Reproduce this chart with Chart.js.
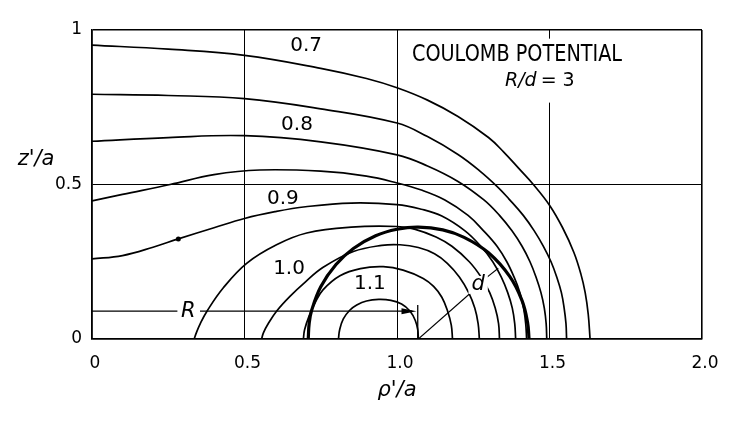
<!DOCTYPE html>
<html>
<head>
<meta charset="utf-8">
<script src="https://cdn.jsdelivr.net/npm/chart.js@4.4.0/dist/chart.umd.min.js"></script>
<style>
  html, body { margin: 0; padding: 0; background: #fff; }
  #wrap { width: 748px; height: 421px; }
</style>
</head>
<body>
<div id="wrap"><canvas id="mycanvas" width="748" height="421"></canvas></div>
<script>
// axis ticks
var xTicks = [0, 0.5, 1.0, 1.5, 2.0];
var xTickLabels = ['0', '0.5', '1.0', '1.5', '2.0'];
var yTicks = [0, 0.5, 1];
var yTickLabels = ['0', '0.5', '1'];
var contourLabels = ['0.7', '0.8', '0.9', '1.0', '1.1'];

// equipotential lines, points as [rho'/a, z'/a]
var curve070 = [[0,0.951],[0.25,0.938],[0.5,0.918],[0.75,0.876],[0.9,0.843],[1.0,0.813],[1.1,0.773],[1.2,0.72],[1.3,0.652],[1.35,0.605],[1.403,0.548],[1.447,0.5],[1.5,0.433],[1.543,0.36],[1.58,0.28],[1.603,0.21],[1.617,0.15],[1.627,0.08],[1.633,0]];
var curve075 = [[0,0.792],[0.25,0.788],[0.5,0.778],[0.75,0.745],[1.0,0.699],[1.1,0.655],[1.2,0.597],[1.27,0.545],[1.332,0.49],[1.368,0.452],[1.414,0.4],[1.45,0.35],[1.48,0.3],[1.505,0.25],[1.524,0.2],[1.539,0.15],[1.548,0.1],[1.554,0.05],[1.556,0]];
var curve080 = [[0,0.640],[0.25,0.652],[0.5,0.658],[0.75,0.638],[1.0,0.596],[1.1,0.56],[1.2,0.51],[1.285,0.45],[1.336,0.4],[1.377,0.35],[1.41,0.3],[1.436,0.25],[1.456,0.2],[1.472,0.15],[1.483,0.1],[1.489,0.05],[1.491,0]];
var curve085 = [[0,0.447],[0.1,0.468],[0.256,0.5],[0.4,0.532],[0.55,0.547],[0.75,0.543],[0.9,0.527],[1.0,0.505],[1.08,0.482],[1.157,0.45],[1.233,0.4],[1.284,0.35],[1.328,0.3],[1.36,0.25],[1.384,0.2],[1.403,0.15],[1.415,0.1],[1.422,0.05],[1.425,0]];
var curve090 = [[0,0.259],[0.1,0.27],[0.2,0.297],[0.283,0.324],[0.4,0.36],[0.5,0.39],[0.6,0.412],[0.7,0.428],[0.85,0.44],[1.0,0.435],[1.08,0.42],[1.147,0.398],[1.223,0.35],[1.275,0.3],[1.314,0.25],[1.342,0.2],[1.363,0.15],[1.378,0.1],[1.386,0.05],[1.389,0]];
var curve095 = [[0.335,0],[0.342,0.02],[0.355,0.05],[0.377,0.09],[0.43,0.165],[0.507,0.245],[0.605,0.305],[0.704,0.343],[0.85,0.362],[1.0,0.364],[1.06,0.355],[1.128,0.33],[1.18,0.3],[1.237,0.25],[1.276,0.2],[1.304,0.15],[1.322,0.1],[1.333,0.05],[1.336,0]];
var curve100 = [[0.556,0],[0.562,0.02],[0.578,0.05],[0.605,0.09],[0.649,0.138],[0.7,0.185],[0.758,0.232],[0.857,0.283],[0.95,0.303],[1.01,0.305],[1.07,0.296],[1.123,0.276],[1.165,0.245],[1.205,0.2],[1.235,0.15],[1.255,0.1],[1.266,0.05],[1.27,0]];
var curve105 = [[0.693,0],[0.697,0.03],[0.712,0.075],[0.733,0.12],[0.758,0.16],[0.813,0.205],[0.88,0.228],[0.955,0.234],[1.02,0.223],[1.086,0.196],[1.12,0.17],[1.147,0.135],[1.166,0.09],[1.178,0.045],[1.182,0]];
var curve110 = [[0.808,0],[0.812,0.03],[0.824,0.065],[0.845,0.093],[0.868,0.11],[0.9,0.123],[0.94,0.128],[0.98,0.125],[1.015,0.113],[1.043,0.09],[1.06,0.06],[1.068,0.03],[1.07,0]];

// cross-section of the ring (bold circle), radius d about rho' = R
var ringSection = [[0.709,0],[0.712,0.05],[0.72,0.092],[0.75,0.169],[0.8,0.241],[0.857,0.293],[0.93,0.334],[1.0,0.355],[1.07,0.362],[1.15,0.353],[1.22,0.329],[1.3,0.279],[1.37,0.202],[1.41,0.124],[1.428,0.054],[1.433,0]];
var markedPoint = [[0.283, 0.324]];

// dimension lines for R and d
var rLineLeft = [[0, 0.09], [0.28, 0.09]];
var rLineRight = [[0.354, 0.09], [1.05, 0.09]];
var rLineEnd = [[1.068, 0], [1.068, 0.11]];
var dLineLow = [[1.07, 0], [1.245, 0.152]];
var dLineHigh = [[1.29, 0.196], [1.332, 0.229]];

function toPts(arr) {
    return arr.map(function(p) { return {x: p[0], y: p[1]}; });
}
function lineSet(arr, width, tension) {
    return {
        data: toPts(arr),
        showLine: true,
        borderColor: '#000',
        backgroundColor: '#000',
        borderWidth: width,
        pointRadius: 0,
        tension: tension,
        fill: false
    };
}

var FONT = '"DejaVu Sans", "Liberation Sans", Arial, sans-serif';

var annotate = {
    id: 'annotate',
    beforeDatasetsDraw: function(chart) {
        // the title box interrupts the 1.5 grid line
        var xs = chart.scales.x, ys = chart.scales.y, ctx = chart.ctx;
        ctx.save();
        ctx.fillStyle = '#fff';
        var l = xs.getPixelForValue(1.45), r = xs.getPixelForValue(1.55);
        var t = ys.getPixelForValue(0.972), b = ys.getPixelForValue(0.765);
        ctx.fillRect(l, t, r - l, b - t);
        ctx.restore();
    },
    afterDatasetsDraw: function(chart) {
        var xs = chart.scales.x, ys = chart.scales.y, ctx = chart.ctx;
        var area = chart.chartArea;
        function px(v) { return xs.getPixelForValue(v); }
        function py(v) { return ys.getPixelForValue(v); }
        function text(str, x, y, font, align, sx, bg) {
            ctx.save();
            ctx.font = font;
            ctx.textAlign = 'left';
            ctx.textBaseline = 'middle';
            sx = sx || 1;
            var w = ctx.measureText(str).width * sx;
            var left = align === 'center' ? x - w / 2 : (align === 'right' ? x - w : x);
            if (bg) {
                ctx.fillStyle = '#fff';
                ctx.fillRect(left - 3, y - 9, w + 6, 18);
            }
            ctx.translate(left, y);
            ctx.scale(sx, 1);
            ctx.fillStyle = '#000';
            ctx.fillText(str, 0, 0);
            ctx.restore();
            return w;
        }

        // contour values
        var labelAt = [[0.702, 0.950], [0.672, 0.694], [0.626, 0.454], [0.646, 0.227], [0.911, 0.178]];
        for (var i = 0; i < contourLabels.length; i++) {
            text(contourLabels[i], px(labelAt[i][0]), py(labelAt[i][1]), '20px ' + FONT, 'center', 1, false);
        }

        // title, squeezed to the lettering width of the original
        var tFont = '23px ' + FONT;
        ctx.save();
        ctx.font = tFont;
        var tw = ctx.measureText('COULOMB POTENTIAL').width;
        ctx.restore();
        var tLeft = px(1.049), tRight = px(1.738);
        text('COULOMB POTENTIAL', tLeft, py(0.92), tFont, 'left', (tRight - tLeft) / tw, false);
        var w1 = text('R/d', px(1.354), py(0.835), 'italic 19px ' + FONT, 'left', 1, false);
        text('= 3', px(1.354) + w1 + 4, py(0.835), '19px ' + FONT, 'left', 1, false);

        // R and d
        text('R', px(0.316), py(0.089), 'italic 21px ' + FONT, 'center', 1, false);
        text('d', px(1.266), py(0.175), 'italic 21px ' + FONT, 'center', 1, true);

        // arrow head at the end of R
        var tipX = px(1.064), tipY = py(0.09);
        ctx.save();
        ctx.fillStyle = '#000';
        ctx.beginPath();
        ctx.moveTo(tipX, tipY);
        ctx.lineTo(tipX - 15, tipY - 3);
        ctx.lineTo(tipX - 15, tipY + 3);
        ctx.closePath();
        ctx.fill();
        ctx.restore();

        // axis titles
        text("z'/a", area.left - 56, py(0.58), 'italic 21px ' + FONT, 'center', 1, false);
        text("\u03c1'/a", px(1.0), area.bottom + 52, 'italic 21px ' + FONT, 'center', 1, false);
    }
};

function edgeWidth(values) {
    return function(c) {
        return (c.tick && values.indexOf(c.tick.value) >= 0) ? 1.6 : 1;
    };
}

var ctx = document.getElementById('mycanvas');

var chart = new Chart(ctx, {
    type: 'scatter',
    data: {
        datasets: [
            lineSet(curve070, 1.7, 0.4),
            lineSet(curve075, 1.7, 0.4),
            lineSet(curve080, 1.7, 0.4),
            lineSet(curve085, 1.7, 0.4),
            lineSet(curve090, 1.7, 0.4),
            lineSet(curve095, 1.7, 0.4),
            lineSet(curve100, 1.7, 0.4),
            lineSet(curve105, 1.7, 0.4),
            lineSet(curve110, 1.7, 0.4),
            lineSet(ringSection, 3.2, 0.4),
            lineSet(rLineLeft, 1.3, 0),
            lineSet(rLineRight, 1.3, 0),
            lineSet(rLineEnd, 1.3, 0),
            lineSet(dLineLow, 1.1, 0),
            lineSet(dLineHigh, 1.1, 0),
            {
                data: toPts(markedPoint),
                showLine: false,
                pointRadius: 2.5,
                pointBackgroundColor: '#000',
                pointBorderWidth: 0
            }
        ]
    },
    options: {
        responsive: false,
        animation: false,
        devicePixelRatio: 1,
        layout: { padding: { left: 0, right: 46, top: 30, bottom: 0 } },
        plugins: {
            legend: { display: false },
            tooltip: { enabled: false }
        },
        scales: {
            x: {
                type: 'linear',
                min: 0,
                max: 2,
                afterBuildTicks: function(s) { s.ticks = xTicks.map(function(v) { return {value: v}; }); },
                afterFit: function(s) { s.height = 82; },
                ticks: {
                    padding: 14,
                    labelOffset: 3,
                    color: '#000',
                    autoSkip: false,
                    maxRotation: 0,
                    font: { family: FONT, size: 17 },
                    callback: function(v) { return xTickLabels[xTicks.indexOf(v)]; }
                },
                grid: { color: '#000', lineWidth: edgeWidth([0, 2]), drawTicks: false },
                border: { display: true, color: '#000', width: 1.6 }
            },
            y: {
                type: 'linear',
                min: 0,
                max: 1,
                afterBuildTicks: function(s) { s.ticks = yTicks.map(function(v) { return {value: v}; }); },
                afterFit: function(s) { s.width = 92; },
                ticks: {
                    padding: 10,
                    color: '#000',
                    autoSkip: false,
                    font: { family: FONT, size: 17 },
                    callback: function(v) { return yTickLabels[yTicks.indexOf(v)]; }
                },
                grid: { color: '#000', lineWidth: edgeWidth([0, 1]), drawTicks: false },
                border: { display: true, color: '#000', width: 1.6 }
            }
        }
    },
    plugins: [annotate]
});
</script>
</body>
</html>
